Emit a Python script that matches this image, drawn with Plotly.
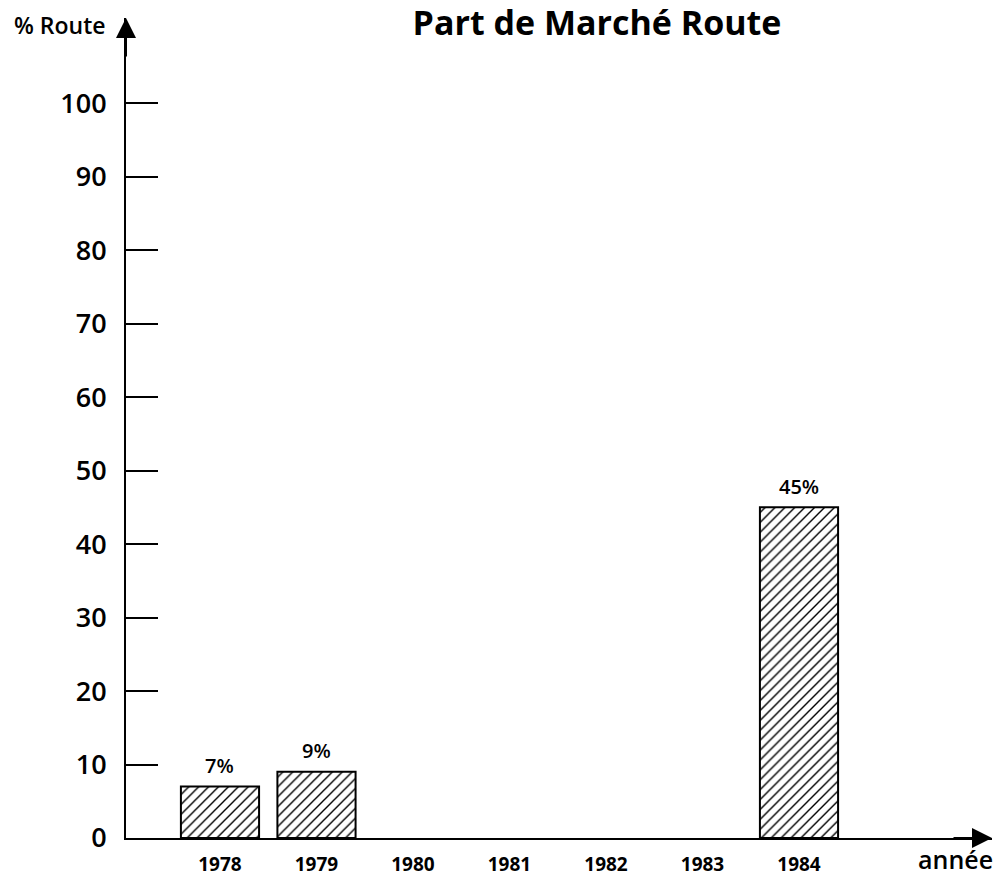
import plotly.graph_objects as go

years = ["1978", "1979", "1980", "1981", "1982", "1983", "1984"]
share = [7, 9, None, None, None, None, 45]
labels = ["7%", "9%", "", "", "", "", "45%"]
y_ticks = [0, 10, 20, 30, 40, 50, 60, 70, 80, 90, 100]

FONT = "Open Sans"

fig = go.Figure()
fig.add_trace(go.Bar(
    x=years, y=share,
    marker=dict(color="white",
                line=dict(color="black", width=2),
                pattern=dict(shape="/", fgcolor="black", bgcolor="white", size=7, solidity=0.2)),
    width=0.81,
    hoverinfo="skip",
))

for i, (v, t) in enumerate(zip(share, labels)):
    if v is not None and t:
        fig.add_annotation(x=i, y=v, xref="x", yref="y", text=t, showarrow=False, yshift=21,
                           font=dict(family=FONT, size=20, color="black", weight=600))

W, H = 996, 877
L, R, T, B = 126, 4, 18, 39
fig.update_layout(
    width=W, height=H,
    template="none",
    margin=dict(l=L, r=R, t=T, b=B),
    paper_bgcolor="white", plot_bgcolor="white",
    showlegend=False,
    title=dict(text="<b>Part de Marché Route</b>", x=597 / W, xref="container", xanchor="center",
               y=1 - 23 / H, yref="container", yanchor="middle",
               font=dict(family=FONT, size=34, color="black")),
    xaxis=dict(type="category", categoryorder="array", categoryarray=years,
               range=[-0.974, 8.0], showline=True, linecolor="black", linewidth=2,
               ticks="", showgrid=False, zeroline=False, automargin=False,
               ticklabelstandoff=8,
               tickfont=dict(family=FONT, size=19, color="black", weight="bold")),
    yaxis=dict(range=[0, 111.6], tickvals=y_ticks, showline=True, linecolor="black", linewidth=2,
               ticks="inside", ticklen=32, tickwidth=2, tickcolor="black",
               showgrid=False, zeroline=False, automargin=False, ticklabelstandoff=12,
               tickfont=dict(family=FONT, size=27, color="black", weight=600)),
)

# axis arrows
fig.add_annotation(x=0, y=1, xref="paper", yref="paper", ax=0, ay=40, axref="pixel", ayref="pixel",
                   text="", showarrow=True, arrowhead=2, arrowsize=2.0, arrowwidth=2, arrowcolor="black")
fig.add_annotation(x=1, y=0, xref="paper", yref="paper", ax=-40, ay=0, axref="pixel", ayref="pixel",
                   text="", showarrow=True, arrowhead=2, arrowsize=2.0, arrowwidth=2, arrowcolor="black")

fig.add_annotation(x=-0.0208, y=1 - 7 / 820, xref="paper", yref="paper", xanchor="right", yanchor="middle",
                   text="% Route", showarrow=False, font=dict(family=FONT, size=23, color="black", weight=600))
fig.add_annotation(x=(955 - L) / (W - L - R), y=-(859 - 838) / 820, xref="paper", yref="paper",
                   xanchor="center", yanchor="middle",
                   text="année", showarrow=False, font=dict(family=FONT, size=25, color="black", weight=600))

fig.write_html("out.html", config={"displayModeBar": False},
               post_script="document.body.style.margin='0';document.body.style.overflow='hidden';")
